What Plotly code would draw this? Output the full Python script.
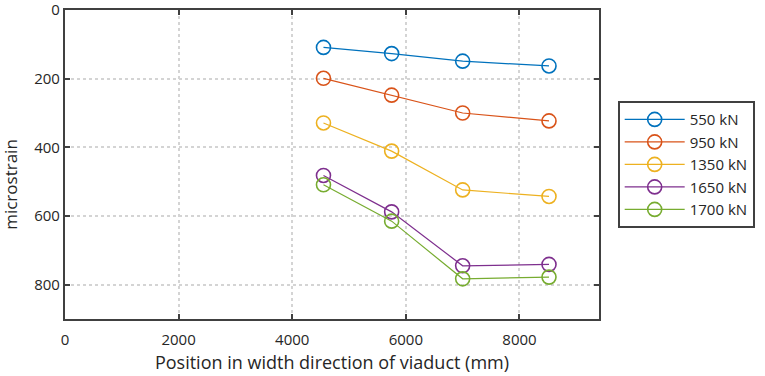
import plotly.graph_objects as go

positions = [4550, 5750, 7000, 8520]
load_labels = ["550 kN", "950 kN", "1350 kN", "1650 kN", "1700 kN"]
strain_550 = [109, 127, 149, 163]
strain_950 = [199, 248, 300, 323]
strain_1350 = [329, 411, 524, 543]
strain_1650 = [482, 588, 745, 741]
strain_1700 = [509, 615, 783, 778]
series = [strain_550, strain_950, strain_1350, strain_1650, strain_1700]
colors = ["#0072BD", "#D95319", "#EDB120", "#7E2F8E", "#77AC30"]

x_ticks = [0, 2000, 4000, 6000, 8000]
y_ticks = [0, 200, 400, 600, 800]
x_title = "Position in width direction of viaduct (mm)"
y_title = "microstrain"

fig = go.Figure()
for name, vals, c in zip(load_labels, series, colors):
    fig.add_trace(go.Scatter(
        x=positions, y=vals, name=name, mode="lines+markers",
        line=dict(color=c, width=1.2),
        marker=dict(symbol="circle-open", size=14, color=c, line=dict(width=1.6, color=c)),
    ))

axis_common = dict(
    showline=True, linecolor="#404040", linewidth=2.2, mirror="allticks",
    ticks="inside", ticklen=5, tickwidth=2, tickcolor="#404040",
    showgrid=True, gridcolor="#d4d4d4", griddash="dot", gridwidth=1.6,
    zeroline=False, tickfont=dict(size=15, color="#262626"),
    title_font=dict(size=18, color="#262626"), automargin=False,
    ticklabeloverflow="allow",
)

fig.update_xaxes(range=[0, 9400], tickvals=x_ticks, title_text=x_title,
                 title_standoff=8, ticklabelstandoff=6, **axis_common)
fig.update_yaxes(range=[900, 0], tickvals=y_ticks, **axis_common)

fig.add_annotation(text=y_title, textangle=-90, xref="paper", yref="paper",
                   x=-0.102, y=0.436, xanchor="center", yanchor="middle",
                   showarrow=False, font=dict(size=17, color="#262626"))

fig.update_layout(
    width=765, height=376,
    margin=dict(l=65, r=164, t=10, b=57),
    paper_bgcolor="white", plot_bgcolor="white",
    font=dict(family="Open Sans", color="#262626"),
    legend=dict(x=1.035, y=0.705, xanchor="left", yanchor="top",
                bordercolor="#404040", borderwidth=2, bgcolor="white",
                font=dict(size=15, color="#262626"), itemwidth=60,
                entrywidth=134, entrywidthmode="pixels",
                tracegroupgap=0),
)

fig.write_html("out.html", config={"displayModeBar": False},
               post_script="document.body.style.margin='0px';")
